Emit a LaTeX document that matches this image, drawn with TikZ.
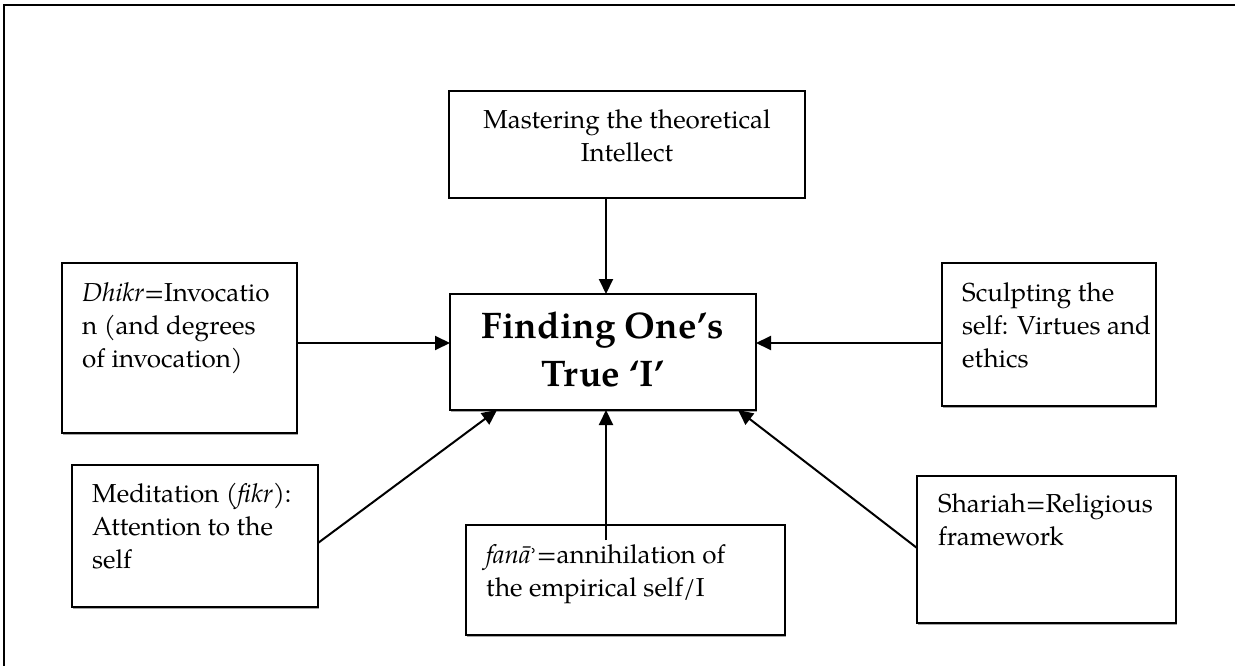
\documentclass[tikz,border=0pt]{standalone}
\usepackage{fontspec}
\setmainfont{texgyrepagella}[Extension=.otf, UprightFont=*-regular, BoldFont=*-bold, ItalicFont=*-italic, BoldItalicFont=*-bolditalic]
\newfontfamily\dejavu{DejaVu Serif}
\usetikzlibrary{arrows.meta,shadows}
\newcommand{\fl}[1][22pt]{\rule{0pt}{#1}}
\begin{document}
\begin{tikzpicture}[x=1pt,y=-1pt,
  box/.style={draw, line width=2pt, fill=white, inner sep=0pt, outer sep=0pt,
    drop shadow={shadow xshift=1pt, shadow yshift=-1.5pt, fill=black!35, opacity=1}},
  txt/.style={anchor=north west, inner sep=0pt, align=left, font=\fontsize{26}{33}\selectfont},
  ctxt/.style={anchor=north, inner sep=0pt, align=center, font=\fontsize{26}{33}\selectfont},
  arr/.style={line width=2pt, -{Triangle[length=15pt,width=14pt]}}]
\useasboundingbox (0,0) rectangle (1235,666);
\draw[line width=2.5pt] (1235,5) -- (4,5) -- (4,666);
% boxes
\node[box, minimum width=356pt, minimum height=107pt] (top) at (627,144.5) {};
\node[box, minimum width=306pt, minimum height=116pt] (center) at (603,352) {};
\node[box, minimum width=235pt, minimum height=170pt] (dhikr) at (179.5,348) {};
\node[box, minimum width=214pt, minimum height=143pt] (sculpt) at (1049,334.5) {};
\node[box, minimum width=246pt, minimum height=142pt] (medit) at (195,536) {};
\node[box, minimum width=319pt, minimum height=110pt] (fana) at (625.5,580) {};
\node[box, minimum width=259pt, minimum height=147pt] (shariah) at (1046.5,549.5) {};
% texts
\node[ctxt] (toptext) at (627,106) {\fl Mastering the theoretical\\Intellect};
\node[anchor=north, inner sep=0pt, align=center, font=\fontsize{37}{48}\selectfont\bfseries] (centertext) at (603,308) {\fl[30pt]Finding One’s\\True ‘I’};
\node[txt] (dhikrtext) at (82,279) {\fl\textit{Dhikr}=Invocatio\\n (and degrees\\of invocation)};
\node[txt] (sculpttext) at (962,279) {\fl Sculpting the\\self: Virtues and\\ethics};
\node[txt] (medittext) at (92,480) {\fl Meditation (\textit{fikr}):\\Attention to the\\self};
\node[txt] (fanatext) at (486,541) {\fl\textit{fanā}{\dejavu\fontsize{20}{20}\selectfont ʾ}=annihilation of\\the empirical self/I};
\node[txt] (shariahtext) at (938,490) {\fl Shariah=Religious\\framework};
% connectors
\coordinate (fstart) at (606,540);
\draw[arr] (top.south -| 606,0) -- (center.north -| 606,0);
\draw[arr] (dhikr.east |- 0,343) -- (center.west |- 0,343);
\draw[arr] (sculpt.west |- 0,343) -- (center.east |- 0,343);
\draw[arr] (medit.east |- 0,543) -- (center.south -| 497,0);
\draw[arr] (fstart) -- (fstart |- center.south);
\draw[arr] (shariah.west |- 0,548) -- (center.south -| 738,0);
\end{tikzpicture}
\end{document}
